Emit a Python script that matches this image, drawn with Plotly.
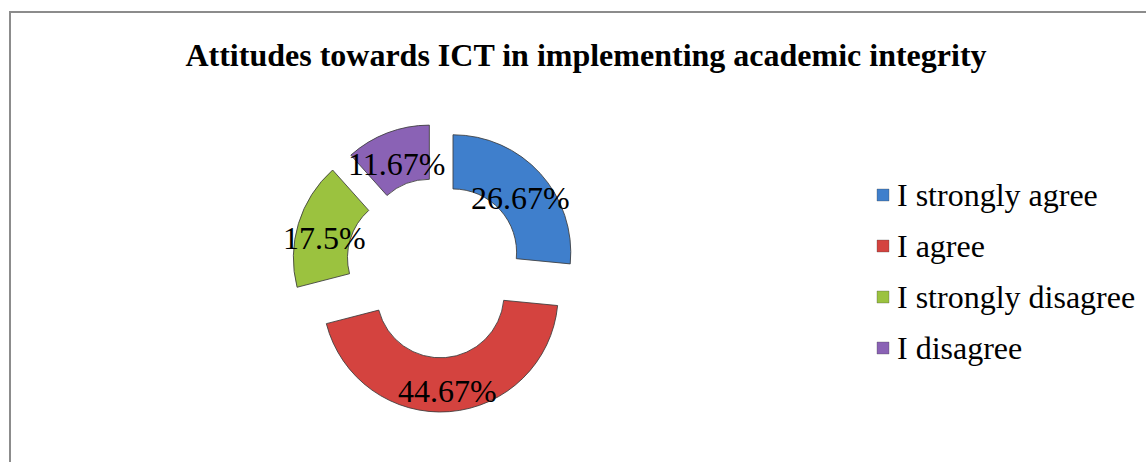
import math
import plotly.graph_objects as go

# ---- data ----
categories = ["I strongly agree", "I agree", "I strongly disagree", "I disagree"]
values = [26.67, 44.67, 17.5, 11.67]
colors = ["#3F7FCC", "#D4433F", "#9BC23F", "#8A62B5"]
pulls = [0.17, 0.24, 0.24, 0.21]
title_text = "Attitudes towards ICT in implementing academic integrity"

W, H = 1146, 462
SERIF = "Liberation Serif, Times New Roman, serif"

# pie domain (paper coords)
dom_x = [0.2549, 0.5098]
dom_y = [0.1075, 0.7409]
hole = 0.54

fig = go.Figure()
fig.add_trace(go.Pie(
    labels=categories,
    values=values,
    sort=False,
    direction="clockwise",
    rotation=0,
    hole=hole,
    pull=pulls,
    marker=dict(colors=colors, line=dict(color="rgba(60,60,60,0.85)", width=1)),
    textinfo="none",
    hoverinfo="label+value",
    showlegend=False,
    domain=dict(x=dom_x, y=dom_y),
))

# ---- slice labels, positioned from the data (same geometry plotly uses) ----
wpx = (dom_x[1] - dom_x[0]) * W
hpx = (dom_y[1] - dom_y[0]) * H
cx = (dom_x[0] + dom_x[1]) / 2 * W
cy = (1 - (dom_y[0] + dom_y[1]) / 2) * H
r = min(wpx, hpx) / 2 / (1 + max(pulls))
total = sum(values)
cum = 0.0
annotations = []
for v, p in zip(values, pulls):
    mid = (cum + v / 2) / total * 2 * math.pi
    cum += v
    dx, dy = math.sin(mid), -math.cos(mid)
    rr = p * r + r * (1 + hole) / 2
    px = cx + dx * rr
    py = cy + dy * rr
    annotations.append(dict(
        x=px / W, y=1 - py / H, xref="paper", yref="paper",
        text=f"{v}%", showarrow=False, yshift=-6,
        font=dict(family=SERIF, size=32, color="black"),
        xanchor="center", yanchor="middle",
    ))

# ---- legend (manual, to match the wide row spacing) ----
leg_x_sq = 883
leg_x_txt = 895
leg_y0 = 195
leg_dy = 51
shapes = []
for i, (c, lab) in enumerate(zip(colors, categories)):
    yc = leg_y0 + i * leg_dy
    shapes.append(dict(
        type="rect", xref="paper", yref="paper",
        x0=(leg_x_sq - 6) / W, x1=(leg_x_sq + 6) / W,
        y0=1 - (yc + 6) / H, y1=1 - (yc - 6) / H,
        fillcolor=c, line=dict(color="rgba(60,60,60,0.6)", width=0.5),
    ))
    annotations.append(dict(
        x=leg_x_txt / W, y=1 - yc / H, xref="paper", yref="paper",
        text=lab, showarrow=False,
        font=dict(family=SERIF, size=32, color="black"),
        xanchor="left", yanchor="middle",
    ))

# chart frame (cropped on right and bottom)
shapes.append(dict(
    type="rect", xref="paper", yref="paper",
    x0=10 / W, x1=1.02, y0=-0.05, y1=1 - 12 / H,
    line=dict(color="#8C8C8C", width=2), fillcolor="rgba(0,0,0,0)",
))

fig.update_layout(
    width=W, height=H,
    margin=dict(l=0, r=0, t=0, b=0),
    paper_bgcolor="white",
    plot_bgcolor="white",
    title=dict(
        text=f"<b>{title_text}</b>",
        x=586 / W, xanchor="center",
        y=1 - 55 / H, yanchor="middle",
        font=dict(family=SERIF, size=32, color="black"),
    ),
    annotations=annotations,
    shapes=shapes,
)

fig.write_html("out.html", config={"displayModeBar": False},
               post_script="document.body.style.margin='0';")
